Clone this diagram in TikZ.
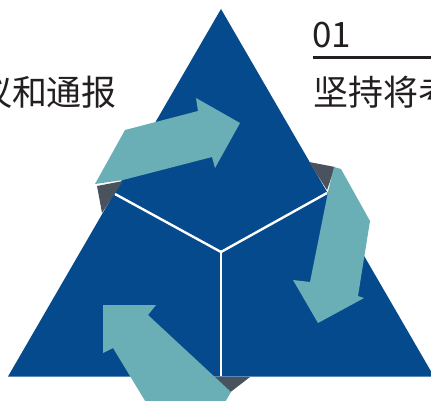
\documentclass[tikz,border=0pt]{standalone}
\usepackage{fontspec}
\newfontfamily\cjk{Noto Sans CJK SC}
\definecolor{triblue}{HTML}{054A8C}
\definecolor{arrteal}{HTML}{6BAFB6}
\definecolor{foldgray}{HTML}{4A535D}
\definecolor{txtdark}{HTML}{231F20}
\begin{document}
\begin{tikzpicture}[x=1pt,y=-1pt,
  lbl/.style={inner sep=0pt,outer sep=0pt,font=\cjk\fontsize{35}{35}\selectfont,text=txtdark},
  arrowshape/.style={fill=arrteal},
  fold/.style={fill=foldgray},
  divider/.style={draw=white,line width=2.4pt}]
\useasboundingbox (0,0) rectangle (431,401);
\clip (0,0) rectangle (431,401);
% triangle
\coordinate (apex) at (221,9);
\coordinate (bl) at (8,376.5);
\coordinate (br) at (434,376.5);
\fill[triblue] (apex) -- (bl) -- (br) -- cycle;
% dividers
\coordinate (ctr) at (221,252);
\coordinate (el) at (115,194);
\coordinate (er) at (327,193);
\coordinate (eb) at (221,376);
\draw[divider] (el) -- (ctr) -- (er);
\draw[divider] (ctr) -- (eb);
% fold pieces
\fill[fold] (97,186) -- (123,181) -- (102,213) -- cycle;
\fill[fold] (309,162) -- (335,167) -- (327,190) -- cycle;
\fill[fold] (205,377) -- (250,377) -- (228,394) -- cycle;
% arrows
\fill[arrowshape] (95,184) -- (125,130) -- (198,111) -- (196,98) -- (240,123) -- (215,168) -- (212,157) -- (123,180) -- cycle;
\fill[arrowshape] (334,167) -- (341,169) -- (370,221) -- (358,296) -- (364,298) -- (318,323) -- (293,280) -- (310,282) -- (328,192) -- cycle;
\fill[arrowshape] (103,305) -- (156,305) -- (148,315) -- (231,392) -- (224,404) -- (147,404) -- (113,348) -- (103,353) -- cycle;
% texts
\node[lbl,anchor=base west] (num) at (312,48) {01};
\coordinate (ulA) at (313,58);
\coordinate (ulB) at (431,58);
\draw[txtdark,line width=3pt] (ulA) -- (ulB);
\node[lbl,anchor=base west] (rtext) at (313,105.5) {坚持将考};
\node[lbl,anchor=base east] (ltext) at (117,105.5) {议和通报};
\end{tikzpicture}
\end{document}
